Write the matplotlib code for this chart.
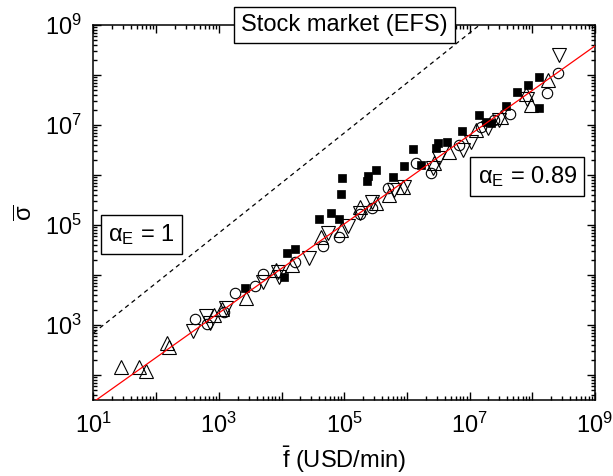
import numpy as np
import matplotlib
matplotlib.use("Agg")
import matplotlib.pyplot as plt
from matplotlib.ticker import LogLocator, FuncFormatter, NullFormatter

plt.rcParams['font.family'] = ['Liberation Sans', 'DejaVu Sans']
plt.rcParams['mathtext.fontset'] = 'custom'
plt.rcParams['mathtext.rm'] = 'Liberation Sans'
plt.rcParams['mathtext.it'] = 'Liberation Sans:italic'
plt.rcParams['mathtext.default'] = 'regular'

# values, stored as log10
up_x = [1.435, 1.733, 1.835, 2.171, 2.208, 2.917, 3.051, 3.435, 3.904, 4.171,
        4.624, 4.944, 5.248, 5.504, 5.717, 5.931, 6.437, 6.677, 7.104, 7.504,
        7.893, 7.984, 8.251]
up_y = [2.154, 2.166, 2.086, 2.634, 2.554, 3.200, 3.320, 3.534, 4.100, 4.200,
        4.766, 4.900, 5.366, 5.434, 5.600, 5.766, 6.234, 6.466, 6.900, 7.166,
        7.620, 7.400, 7.900]

down_x = [2.587, 2.800, 2.864, 3.120, 3.707, 3.957, 3.936, 4.437, 4.741, 5.061,
          5.248, 5.451, 5.797, 5.957, 6.411, 6.517, 6.891, 7.024, 7.301, 7.477,
          7.920, 8.421]
down_y = [2.880, 3.180, 3.046, 3.346, 3.866, 3.966, 4.060, 4.334, 4.834, 4.980,
          5.246, 5.466, 5.700, 5.766, 6.134, 6.334, 6.500, 6.666, 6.934, 7.100,
          7.514, 8.400]

circ_x = [2.613, 2.811, 3.077, 3.264, 3.573, 3.701, 4.208, 4.667, 4.923, 5.248,
          5.451, 5.691, 6.144, 6.384, 6.837, 7.184, 7.387, 7.653, 8.235, 8.411]
circ_y = [3.114, 3.014, 3.266, 3.646, 3.780, 4.014, 4.266, 4.580, 4.754, 5.220,
          5.334, 5.734, 6.234, 6.034, 6.600, 6.966, 7.100, 7.220, 7.634, 8.034]

sq_x = [3.413, 4.037, 4.091, 4.208, 4.597, 4.784, 4.923, 4.944, 4.965, 5.360,
        5.387, 5.509, 5.771, 5.947, 6.091, 6.224, 6.464, 6.491, 6.635, 6.875,
        7.147, 7.264, 7.344, 7.584, 7.760, 7.931, 8.101, 8.101]
sq_y = [3.734, 3.966, 4.434, 4.520, 5.120, 5.246, 5.114, 5.620, 5.934, 5.886,
        5.980, 6.100, 5.966, 6.186, 6.526, 6.200, 6.534, 6.634, 6.666, 6.886,
        7.200, 7.066, 7.046, 7.380, 7.654, 7.800, 7.954, 7.334]

alpha_fit = 0.89
fit_c = 0.57
ref_c = 1.84

fig = plt.figure(figsize=(6.13, 4.76), dpi=100)
ax = fig.add_axes([0.1525, 0.1597, 0.818, 0.7878])

xx = np.array([1.0, 9.0])
ax.plot(10**xx, 10**(alpha_fit*xx + fit_c), color='red', lw=0.9, zorder=3)
ax.plot(10**xx, 10**(xx + ref_c), color='black', lw=0.9, ls=(0, (3.5, 3)), zorder=1)

ax.plot(10**np.array(up_x), 10**np.array(up_y), ls='none', marker='^', ms=10,
        mfc='none', mec='black', mew=0.8, zorder=2)
ax.plot(10**np.array(down_x), 10**np.array(down_y), ls='none', marker='v', ms=10,
        mfc='none', mec='black', mew=0.8, zorder=2)
ax.plot(10**np.array(circ_x), 10**np.array(circ_y), ls='none', marker='o', ms=7.5,
        mfc='none', mec='black', mew=0.8, zorder=2)
ax.plot(10**np.array(sq_x), 10**np.array(sq_y), ls='none', marker='s', ms=6.3,
        mfc='black', mec='black', mew=0.5, zorder=2)

ax.set_xscale('log')
ax.set_yscale('log')
ax.set_xlim(10**1, 10**9)
ax.set_ylim(10**1.5, 10**9)

ax.xaxis.set_major_locator(LogLocator(base=10, numticks=20))
ax.yaxis.set_major_locator(LogLocator(base=10, numticks=20))
ax.xaxis.set_minor_locator(LogLocator(base=10, subs=np.arange(2, 10), numticks=20))
ax.yaxis.set_minor_locator(LogLocator(base=10, subs=np.arange(2, 10), numticks=20))


def odd_fmt(v, p):
    e = round(np.log10(v))
    if e % 2 == 1:
        return r'$10^{%d}$' % e
    return ''


ax.xaxis.set_major_formatter(FuncFormatter(odd_fmt))
ax.yaxis.set_major_formatter(FuncFormatter(odd_fmt))
ax.xaxis.set_minor_formatter(NullFormatter())
ax.yaxis.set_minor_formatter(NullFormatter())

ax.tick_params(which='both', direction='in', top=True, right=True, width=1)
ax.tick_params(which='major', length=6, labelsize=17)
ax.tick_params(which='minor', length=3)
ax.tick_params(axis='x', pad=9)
ax.tick_params(axis='y', pad=8)
for s in ax.spines.values():
    s.set_linewidth(1.1)

ax.set_xlabel(r'$\bar{f}$ (USD/min)', fontsize=17, labelpad=5)
ax.set_ylabel(r'$\overline{\sigma}$', fontsize=17, labelpad=6)

box = dict(boxstyle='square,pad=0.3', fc='white', ec='black', lw=1)
ax.text(0.5, 1.0, 'Stock market (EFS)', transform=ax.transAxes, ha='center',
        va='center', fontsize=17, bbox=box, zorder=10, clip_on=False)
ax.text(0.865, 0.595, r'$\alpha_E$ = 0.89', transform=ax.transAxes, ha='center',
        va='center', fontsize=17, bbox=box, zorder=10)
ax.text(0.096, 0.441, r'$\alpha_E$ = 1', transform=ax.transAxes, ha='center',
        va='center', fontsize=17, bbox=box, zorder=10)

fig.savefig('out.png', dpi=100)
